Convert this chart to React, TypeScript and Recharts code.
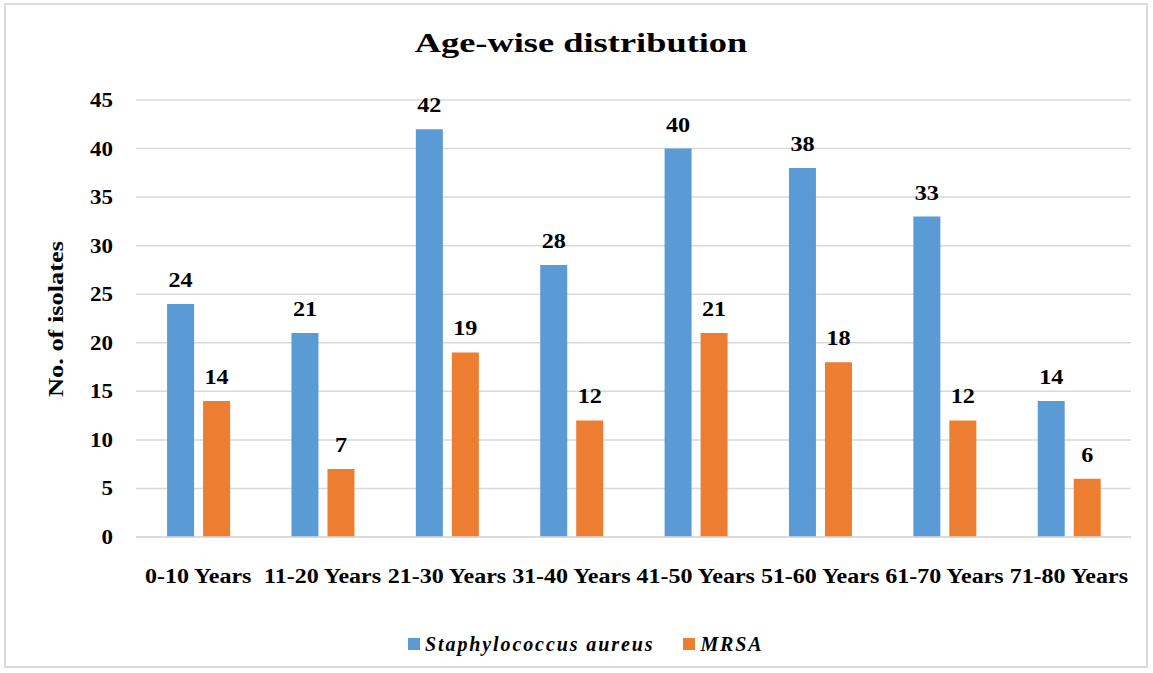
import React from "react";
import { Bar, BarChart, CartesianGrid, LabelList, Legend, XAxis, YAxis } from "recharts";

const categories = [
  "0-10 Years",
  "11-20 Years",
  "21-30 Years",
  "31-40 Years",
  "41-50 Years",
  "51-60 Years",
  "61-70 Years",
  "71-80 Years",
];
const staphValues = [24, 21, 42, 28, 40, 38, 33, 14];
const mrsaValues = [14, 7, 19, 12, 21, 18, 12, 6];
const yTicks = [0, 5, 10, 15, 20, 25, 30, 35, 40, 45];
const seriesNames = ["Staphylococcus aureus", "MRSA"];

const data = categories.map((category, i) => ({
  category,
  staph: staphValues[i],
  mrsa: mrsaValues[i],
}));

const FONT = "'Liberation Serif', 'Times New Roman', serif";
const BLUE = "#5B9BD5";
const ORANGE = "#ED7D31";

// text that is a bit wider than normal, like the stretched original
function WideText({ x, y, anchor = "middle", size, scale = 1.2, rotate = 0, italic = false, children }: any) {
  return (
    <g transform={`translate(${x},${y}) rotate(${rotate}) scale(${scale},1)`}>
      <text
        x={0}
        y={0}
        textAnchor={anchor}
        fontFamily={FONT}
        fontWeight="bold"
        fontStyle={italic ? "italic" : "normal"}
        fontSize={size}
        fill="#000"
      >
        {children}
      </text>
    </g>
  );
}

const XTick = ({ x, y, payload }: any) => (
  <WideText x={x} y={y + 46} size={20} scale={1.2}>
    {payload.value}
  </WideText>
);

const YTick = ({ x, y, payload }: any) => (
  <WideText x={x} y={y + 7} anchor="end" size={20.5} scale={1.12}>
    {payload.value}
  </WideText>
);

const barLabel = (props: any) => {
  const { x, y, width, value } = props;
  return (
    <WideText x={x + width / 2} y={y - 17} size={22} scale={1.1}>
      {value}
    </WideText>
  );
};

const LegendContent = ({ payload }: any) => {
  const items = [...(payload || [])].sort(
    (a: any, b: any) => seriesNames.indexOf(a.value) - seriesNames.indexOf(b.value)
  );
  return (
    <div style={{ display: "flex", alignItems: "center", height: 24, fontFamily: FONT }}>
      {items.map((item: any, i: number) => (
        <div key={i} style={{ display: "flex", alignItems: "center", marginRight: 29 }}>
          <span style={{ width: 12, height: 12, background: item.color, display: "inline-block", marginRight: 5 }} />
          <span style={{ fontSize: 20, fontWeight: "bold", fontStyle: "italic", letterSpacing: 1.9 }}>{item.value}</span>
        </div>
      ))}
    </div>
  );
};

export default function App() {
  return (
    <div style={{ position: "absolute", left: 0, top: 0, width: 1153, height: 673, background: "#fff" }}>
      <div
        style={{
          position: "absolute",
          left: 4,
          top: 3,
          width: 1144,
          height: 665,
          border: "2px solid #d9d9d9",
          boxSizing: "border-box",
        }}
      />
      <div style={{ position: "absolute", left: 0, top: 0 }}>
        <BarChart
          width={1153}
          height={673}
          data={data}
          margin={{ top: 100, right: 22, left: 76, bottom: 52 }}
          barCategoryGap="25%"
          barGap={9}
        >
          <CartesianGrid vertical={false} stroke="#d9d9d9" strokeWidth={1.5} />
          <XAxis
            dataKey="category"
            interval={0}
            tickLine={false}
            axisLine={{ stroke: "#d9d9d9", strokeWidth: 1.5 }}
            tickSize={0}
            tickMargin={0}
            height={60}
            tick={<XTick />}
          />
          <YAxis
            domain={[0, 45]}
            ticks={yTicks}
            width={60}
            tickLine={false}
            axisLine={false}
            tickSize={0}
            tickMargin={23}
            tick={<YTick />}
          />
          <Legend
            verticalAlign="bottom"
            content={<LegendContent />}
            wrapperStyle={{ top: 632, bottom: "auto", left: 408, width: "auto" }}
          />
          <Bar dataKey="staph" name={seriesNames[0]} fill={BLUE} isAnimationActive={false}>
            <LabelList dataKey="staph" content={barLabel} />
          </Bar>
          <Bar dataKey="mrsa" name={seriesNames[1]} fill={ORANGE} isAnimationActive={false}>
            <LabelList dataKey="mrsa" content={barLabel} />
          </Bar>
        </BarChart>
      </div>
      <svg
        width={1153}
        height={673}
        style={{ position: "absolute", left: 0, top: 0, pointerEvents: "none" }}
      >
        <WideText x={581} y={52} size={28} scale={1.3}>
          Age-wise distribution
        </WideText>
        <WideText x={63} y={319} size={22} scale={1.2} rotate={-90}>
          No. of isolates
        </WideText>
      </svg>
    </div>
  );
}
